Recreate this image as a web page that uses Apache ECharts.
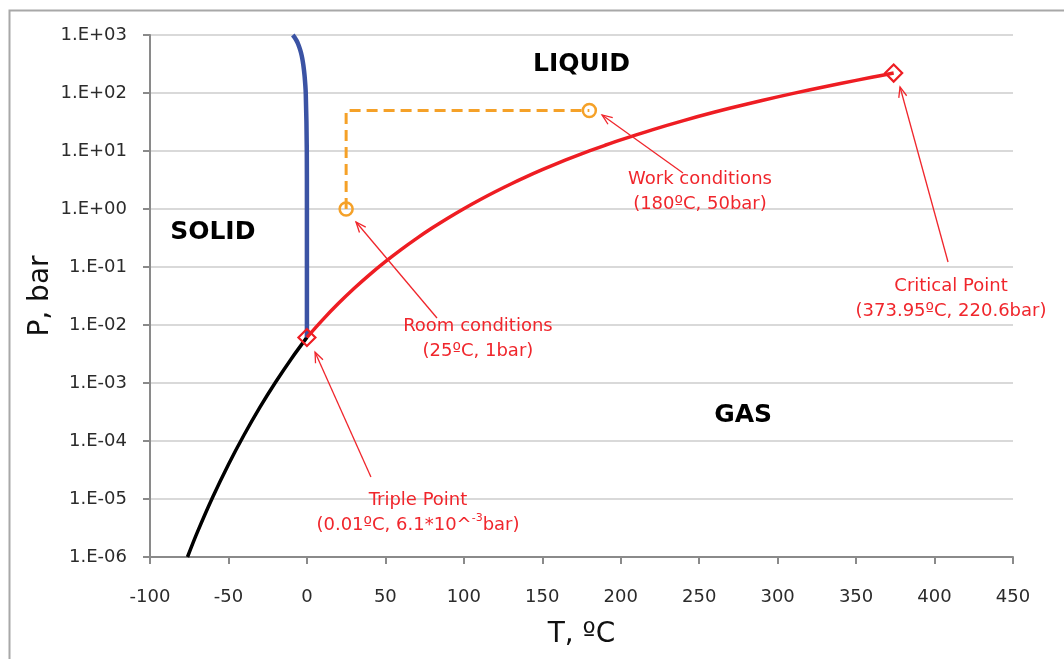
<!DOCTYPE html>
<html>
<head>
<meta charset="utf-8">
<title>Water phase diagram</title>
<script src="https://cdn.jsdelivr.net/npm/echarts@6/dist/echarts.min.js"></script>
<style>
  html, body { margin: 0; padding: 0; background: #ffffff; }
  #chart { width: 1064px; height: 659px; }
</style>
</head>
<body>
<div id="chart"></div>
<script>
// Liquid–vapour (boiling) curve, triple point to critical point
const boilT = [0.01, 10, 20, 30, 40, 50, 60, 70, 80, 90, 100, 110, 120, 130, 140, 150, 160, 170, 180, 190, 200, 220, 240, 260, 280, 300, 320, 340, 360, 373.95];
const boilP = [0.00611, 0.01228, 0.02339, 0.04247, 0.07384, 0.1235, 0.1995, 0.3120, 0.4741, 0.7018, 1.0142, 1.4338, 1.9867, 2.7028, 3.6154, 4.7616, 6.1823, 7.9219, 10.028, 12.552, 15.549, 23.196, 33.469, 46.923, 64.166, 85.879, 112.90, 146.01, 186.66, 220.6];

// Solid–vapour (sublimation) curve
const sublT = [-76.1, -70, -60, -50, -40, -30, -20, -10, 0.01];
const sublP = [1.0e-6, 2.6e-6, 1.08e-5, 3.94e-5, 1.28e-4, 3.80e-4, 1.03e-3, 2.60e-3, 0.00611];

// Solid–liquid (melting) curve
const meltT = [0.01, 0.0024, -0.07, -0.74, -1.5, -2.25, -3.0, -3.8, -4.7, -5.6, -6.6, -7.7, -9.0];
const meltP = [0.00611, 1, 10, 100, 200, 300, 400, 500, 600, 700, 800, 900, 1000];

// Process path from room conditions to work conditions
const routeT = [25, 25, 180];
const routeP = [1, 50, 50];

// Characteristic points
const specialT = [0.01, 373.95];
const specialP = [0.0061, 220.6];
const stateT = [25, 180];
const stateP = [1, 50];

// Axis ticks
const xTicks = [-100, -50, 0, 50, 100, 150, 200, 250, 300, 350, 400, 450];
const yExponents = [-6, -5, -4, -3, -2, -1, 0, 1, 2, 3];

// Region names and where they sit (T, P)
const regionNames = ['LIQUID', 'SOLID', 'GAS'];
const regionT = [175, -60, 278];
const regionP = [316, 0.39, 2.8e-4];

// Callout texts, their anchor (T, P) and the arrow from text to point
const noteTexts = [
  'Triple Point\n(0.01ºC, 6.1*10^{sup|-3}bar)',
  'Room conditions\n(25ºC, 1bar)',
  'Work conditions\n(180ºC, 50bar)',
  'Critical Point\n(373.95ºC, 220.6bar)'
];
const noteT = [70.8, 109, 250.5, 410.5];
const noteP = [5.8e-6, 5.8e-3, 1.97, 0.028];
const arrowFromT = [40.8, 82.9, 239.7, 408.6];
const arrowFromP = [2.4e-5, 1.32e-2, 4.18, 0.122];
const arrowToT = [5.2, 31.3, 188.1, 378.0];
const arrowToP = [3.4e-3, 0.597, 41.8, 127];

const zip = (a, b) => a.map((v, i) => [v, b[i]]);

const RED = '#ee1d23';
const NOTE_RED = '#f0262c';
const ORANGE = '#f5a128';
const BLUE = '#3b53a4';
const AXIS_GREY = '#8a8a8a';
const FONT = 'DejaVu Sans';

const chart = echarts.init(document.getElementById('chart'), null, { renderer: 'canvas' });

function expLabel(v) {
  const e = Math.round(Math.log10(v));
  return '1.E' + (e >= 0 ? '+' : '-') + String(Math.abs(e)).padStart(2, '0');
}

const option = {
  animation: false,
  backgroundColor: '#ffffff',
  graphic: [{
    type: 'polyline',
    silent: true,
    shape: { points: [[9.5, 700], [9.5, 10.5], [1100, 10.5]] },
    style: { stroke: '#a8a8a8', lineWidth: 2, fill: null }
  }],
  grid: { left: 150, right: 51, top: 35, bottom: 102, containLabel: false },
  xAxis: {
    type: 'value',
    min: xTicks[0],
    max: xTicks[xTicks.length - 1],
    interval: 50,
    name: 'T, ºC',
    nameLocation: 'middle',
    nameGap: 64,
    nameMoveOverlap: false,
    nameTextStyle: { fontFamily: FONT, fontSize: 28, color: '#111111' },
    axisLine: { show: true, onZero: false, lineStyle: { color: AXIS_GREY, width: 2 } },
    axisTick: { show: true, inside: false, length: 7, lineStyle: { color: AXIS_GREY, width: 2 } },
    axisLabel: { fontFamily: FONT, fontSize: 18, color: '#2b2b2b', margin: 31 },
    splitLine: { show: false }
  },
  yAxis: {
    type: 'log',
    logBase: 10,
    min: Math.pow(10, yExponents[0]),
    max: Math.pow(10, yExponents[yExponents.length - 1]),
    interval: 1,
    name: 'P, bar',
    nameLocation: 'middle',
    nameRotate: 90,
    nameGap: 95,
    nameMoveOverlap: false,
    nameTextStyle: { fontFamily: FONT, fontSize: 28, color: '#111111' },
    axisLine: { show: true, onZero: false, lineStyle: { color: AXIS_GREY, width: 2 } },
    axisTick: { show: true, inside: false, length: 7, lineStyle: { color: AXIS_GREY, width: 2 } },
    axisLabel: { fontFamily: FONT, fontSize: 18, color: '#2b2b2b', margin: 23, formatter: expLabel },
    splitLine: { show: true, lineStyle: { color: '#d9d9d9', width: 2 } }
  },
  series: [
    {
      name: 'Sublimation',
      type: 'line',
      data: zip(sublT, sublP),
      showSymbol: false,
      smooth: 0.3,
      lineStyle: { color: '#000000', width: 3.5 },
      z: 3,
      silent: true
    },
    {
      name: 'Melting',
      type: 'line',
      data: zip(meltT, meltP),
      showSymbol: false,
      smooth: 0.3,
      lineStyle: { color: BLUE, width: 4.5 },
      z: 3,
      silent: true
    },
    {
      name: 'Boiling',
      type: 'line',
      data: zip(boilT, boilP),
      showSymbol: false,
      smooth: 0.3,
      lineStyle: { color: RED, width: 3.5 },
      z: 4,
      silent: true
    },
    {
      name: 'Route',
      type: 'line',
      data: zip(routeT, routeP),
      showSymbol: false,
      lineStyle: { color: ORANGE, width: 3, type: [11, 6] },
      z: 4,
      silent: true
    },
    {
      name: 'States',
      type: 'scatter',
      data: zip(stateT, stateP),
      symbol: 'circle',
      symbolSize: 13,
      itemStyle: { color: 'rgba(255,255,255,0)', borderColor: ORANGE, borderWidth: 2.5, opacity: 1 },
      z: 5,
      silent: true
    },
    {
      name: 'Special points',
      type: 'scatter',
      data: zip(specialT, specialP),
      symbol: 'diamond',
      symbolSize: 17,
      itemStyle: { color: 'rgba(255,255,255,0)', borderColor: RED, borderWidth: 2.2, opacity: 1 },
      z: 6,
      silent: true
    },
    {
      name: 'Arrows',
      type: 'custom',
      data: arrowFromT.map((t, i) => [t, arrowFromP[i], arrowToT[i], arrowToP[i]]),
      encode: { x: [0, 2], y: [1, 3] },
      clip: false,
      silent: true,
      z: 7,
      renderItem: function (params, api) {
        const a = api.coord([api.value(0), api.value(1)]);
        const b = api.coord([api.value(2), api.value(3)]);
        const ang = Math.atan2(a[1] - b[1], a[0] - b[0]);
        const len = 11, spread = 0.38;
        const w1 = [b[0] + len * Math.cos(ang + spread), b[1] + len * Math.sin(ang + spread)];
        const w2 = [b[0] + len * Math.cos(ang - spread), b[1] + len * Math.sin(ang - spread)];
        const style = { stroke: NOTE_RED, lineWidth: 1.3, fill: null };
        return {
          type: 'group',
          children: [
            { type: 'line', shape: { x1: a[0], y1: a[1], x2: b[0], y2: b[1] }, style: style },
            { type: 'polyline', shape: { points: [w1, b, w2] }, style: style }
          ]
        };
      }
    },
    {
      name: 'Notes',
      type: 'scatter',
      data: noteT.map((t, i) => ({ value: [t, noteP[i]], text: noteTexts[i] })),
      symbolSize: 1,
      itemStyle: { color: 'rgba(0,0,0,0)', opacity: 1 },
      silent: true,
      z: 8,
      label: {
        show: true,
        position: 'inside',
        formatter: p => p.data.text,
        fontFamily: FONT,
        fontSize: 18,
        lineHeight: 25,
        color: NOTE_RED,
        align: 'center',
        verticalAlign: 'middle',
        rich: {
          sup: { fontFamily: FONT, fontSize: 11, lineHeight: 14, color: NOTE_RED, verticalAlign: 'top' }
        }
      }
    },
    {
      name: 'Regions',
      type: 'scatter',
      data: regionT.map((t, i) => ({ value: [t, regionP[i]], name: regionNames[i] })),
      symbolSize: 1,
      itemStyle: { color: 'rgba(0,0,0,0)', opacity: 1 },
      silent: true,
      z: 8,
      label: {
        show: true,
        position: 'inside',
        formatter: p => p.name,
        fontFamily: FONT,
        fontWeight: 'bold',
        fontSize: 25,
        color: '#000000',
        align: 'center',
        verticalAlign: 'middle'
      }
    }
  ]
};

chart.setOption(option);
</script>
</body>
</html>
